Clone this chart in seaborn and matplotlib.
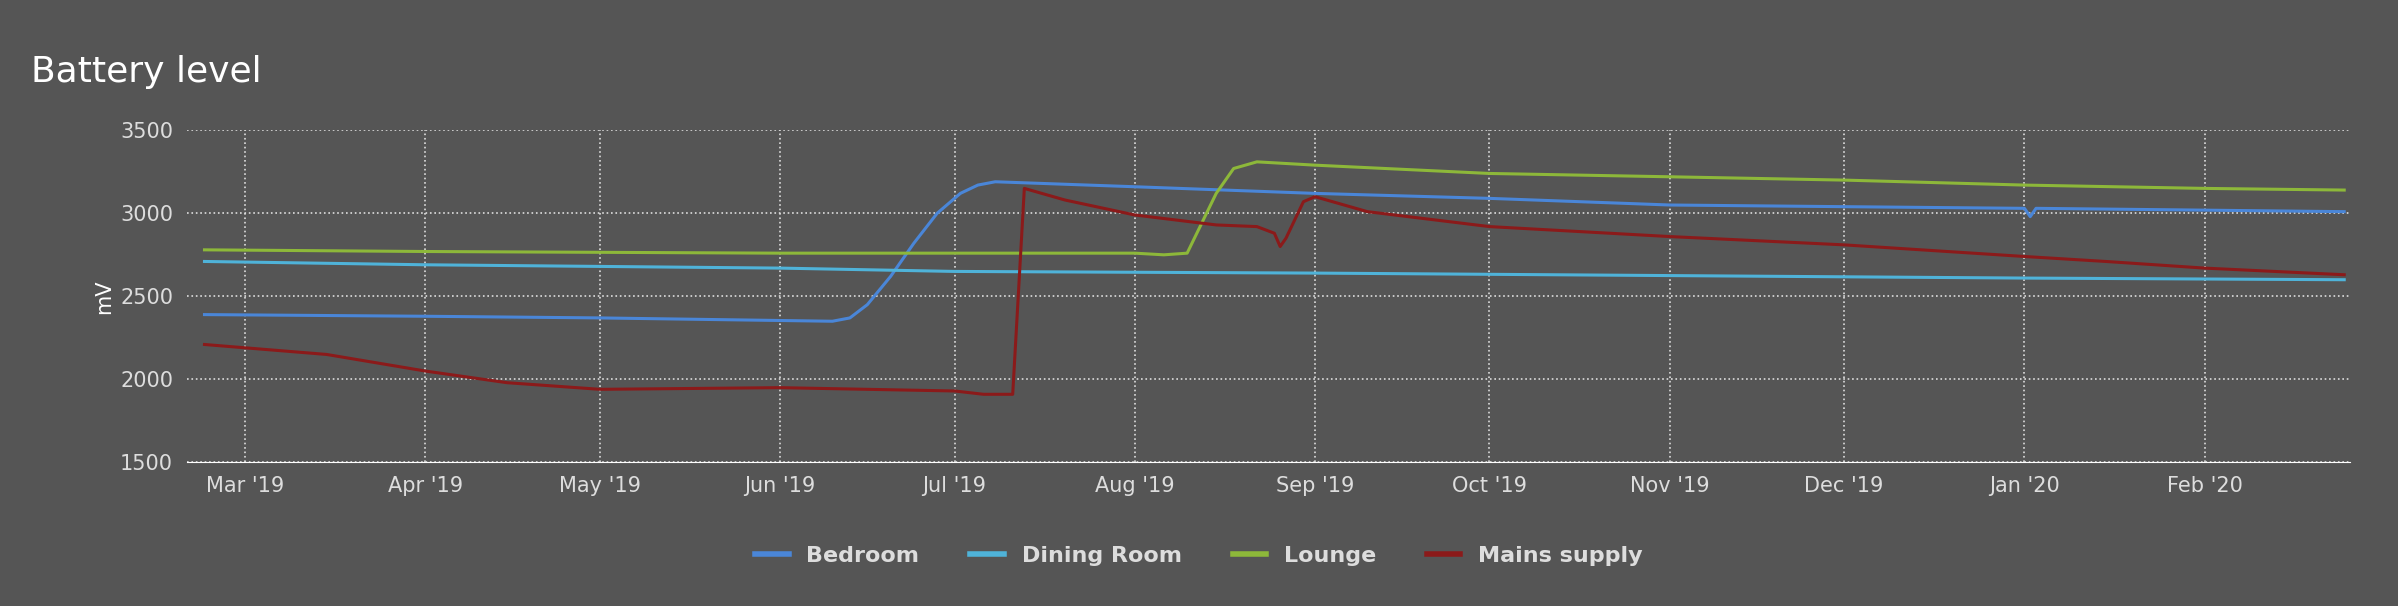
import pandas as pd
import seaborn as sns
import matplotlib.pyplot as plt
import matplotlib.dates as mdates

# data (mV)
bed_dates = ["2019-02-22", "2019-04-01", "2019-05-01", "2019-06-10", "2019-06-13", "2019-06-16", "2019-06-20",
             "2019-06-24", "2019-06-28", "2019-07-02", "2019-07-05", "2019-07-08", "2019-08-01", "2019-09-01",
             "2019-10-01", "2019-11-01", "2019-12-01", "2020-01-01", "2020-01-02", "2020-01-03", "2020-02-25"]
bed_vals = [2390, 2380, 2370, 2350, 2370, 2450, 2620, 2820, 3000, 3120, 3170, 3190, 3160, 3120,
            3090, 3050, 3040, 3030, 2980, 3030, 3010]

din_dates = ["2019-02-22", "2019-04-01", "2019-06-01", "2019-07-01", "2019-09-01", "2019-11-01",
             "2020-01-01", "2020-02-25"]
din_vals = [2710, 2690, 2670, 2650, 2640, 2625, 2610, 2600]

lou_dates = ["2019-02-22", "2019-04-01", "2019-06-01", "2019-08-01", "2019-08-06", "2019-08-10",
             "2019-08-15", "2019-08-18", "2019-08-22", "2019-09-01", "2019-10-01", "2019-11-01",
             "2019-12-01", "2020-01-01", "2020-02-01", "2020-02-25"]
lou_vals = [2780, 2770, 2760, 2760, 2750, 2760, 3120, 3270, 3310, 3290, 3240, 3220, 3200, 3170, 3150, 3140]

mains_dates = ["2019-02-22", "2019-03-15", "2019-04-01", "2019-04-15", "2019-05-01", "2019-06-01",
               "2019-07-01", "2019-07-06", "2019-07-11", "2019-07-13", "2019-07-20", "2019-08-01",
               "2019-08-15", "2019-08-22", "2019-08-25", "2019-08-26", "2019-08-27", "2019-08-30",
               "2019-09-01", "2019-09-10", "2019-10-01", "2019-11-01", "2019-12-01", "2020-01-01",
               "2020-01-15", "2020-02-01", "2020-02-25"]
mains_vals = [2210, 2150, 2050, 1980, 1940, 1950, 1930, 1910, 1910, 3150, 3080, 2990, 2930, 2920,
              2880, 2800, 2850, 3070, 3100, 3010, 2920, 2860, 2810, 2740, 2710, 2670, 2630]

series = ["Bedroom", "Dining Room", "Lounge", "Mains supply"]
colors = ["#4a86d8", "#4fb3d9", "#8db83a", "#8b1a1a"]

frames = []
for name, d, v in zip(series, [bed_dates, din_dates, lou_dates, mains_dates],
                      [bed_vals, din_vals, lou_vals, mains_vals]):
    frames.append(pd.DataFrame({"date": pd.to_datetime(d), "mV": v, "sensor": name}))
df = pd.concat(frames)

bg = "#555555"
fig = plt.figure(figsize=(23.98, 6.06), dpi=100, facecolor=bg)
ax = fig.add_axes([0.078, 0.237, 0.902, 0.548], facecolor=bg)
sns.lineplot(data=df, x="date", y="mV", hue="sensor", palette=colors, ax=ax, linewidth=2.2, legend=False)

ax.set_ylim(1500, 3500)
ax.set_yticks([1500, 2000, 2500, 3000, 3500])
ax.set_xlim(pd.Timestamp("2019-02-19"), pd.Timestamp("2020-02-26"))
ax.xaxis.set_major_locator(mdates.MonthLocator())
ax.xaxis.set_major_formatter(mdates.DateFormatter("%b '%y"))
ax.grid(True, color="#dddddd", linestyle=":", linewidth=1.2)
ax.set_xlabel("")
ax.set_ylabel("mV", color="white", fontsize=15)
ax.tick_params(colors="#dddddd", labelsize=15, length=0, pad=10)
for s in ["top", "right", "left"]:
    ax.spines[s].set_visible(False)
ax.spines["bottom"].set_color("white")

fig.text(0.013, 0.865, "Battery level", color="white", fontsize=26)

handles = [plt.Line2D([], [], color=c, lw=4) for c in colors]
leg = fig.legend(handles, series, loc="center", bbox_to_anchor=(0.5, 0.083), ncol=4, frameon=False,
                 fontsize=16, handlelength=1.5, columnspacing=2.3)
for t in leg.get_texts():
    t.set_color("#dddddd")
    t.set_fontweight("bold")

fig.savefig("out.png", dpi=100, facecolor=bg)
